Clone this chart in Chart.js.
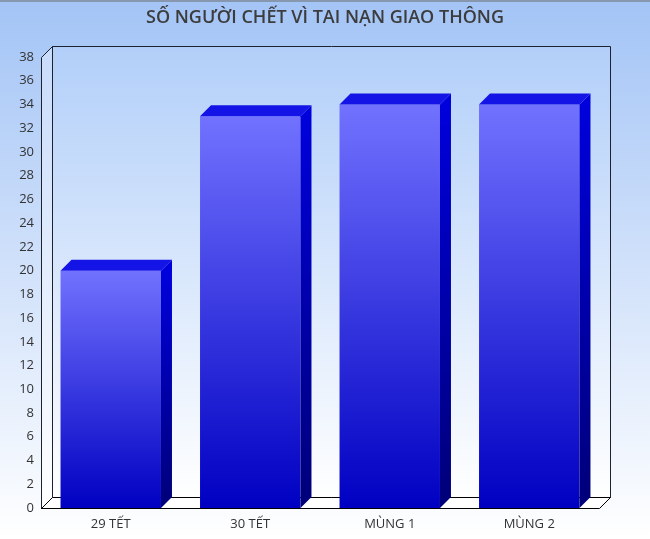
<!DOCTYPE html>
<html lang="vi">
<head>
    <meta charset="UTF-8">
    <title>Số người chết vì tai nạn giao thông</title>
    <script src="https://cdn.jsdelivr.net/npm/chart.js"></script>
    <style>
        html, body { margin: 0; padding: 0; background: #ffffff; }
        #wrap { width: 650px; height: 539px; position: relative; }
    </style>
</head>
<body>
    <div id="wrap"><canvas id="tnChart" width="650" height="539"></canvas></div>

    <script>
        // du lieu
        const ngay = ["29 TẾT", "30 TẾT", "MÙNG 1", "MÙNG 2"];
        const soNguoiChet = [20, 33, 34, 34];
        const yMin = 0;
        const yMax = 38;
        const yStep = 2;
        const tieuDe = "SỐ NGƯỜI CHẾT VÌ TAI NẠN GIAO THÔNG";

        const DEPTH_X = 11, DEPTH_Y = 11;
        const fontChu = "'Open Sans', 'Noto Sans', sans-serif";

        // ve nen, tuong va san kieu 3D
        const khung3D = {
            id: "khung3D",
            beforeDraw(chart) {
                const ctx = chart.ctx;
                const a = chart.chartArea;
                ctx.save();
                let g = ctx.createLinearGradient(0, 0, 0, chart.height);
                g.addColorStop(0, "#a3c4f6");
                g.addColorStop(1, "#ffffff");
                ctx.fillStyle = g;
                ctx.fillRect(0, 0, chart.width, chart.height);
                ctx.fillStyle = "#8797ad";
                ctx.fillRect(0, 0, chart.width, 2);

                const L = a.left, R = a.right, T = a.top, B = a.bottom;
                ctx.lineWidth = 1;
                ctx.strokeStyle = "#1c2230";

                // tuong sau
                g = ctx.createLinearGradient(0, T - DEPTH_Y, 0, B - DEPTH_Y);
                g.addColorStop(0, "#b2cff9");
                g.addColorStop(1, "#ffffff");
                ctx.fillStyle = g;
                ctx.beginPath();
                ctx.rect(L + DEPTH_X + 0.5, T - DEPTH_Y + 0.5, R - L, B - T);
                ctx.fill();
                ctx.stroke();

                // tuong trai
                g = ctx.createLinearGradient(0, T, 0, B);
                g.addColorStop(0, "#c9dcfa");
                g.addColorStop(1, "#ffffff");
                ctx.fillStyle = g;
                ctx.beginPath();
                ctx.moveTo(L + 0.5, T + 0.5);
                ctx.lineTo(L + DEPTH_X + 0.5, T - DEPTH_Y + 0.5);
                ctx.lineTo(L + DEPTH_X + 0.5, B - DEPTH_Y + 0.5);
                ctx.lineTo(L + 0.5, B + 0.5);
                ctx.closePath();
                ctx.fill();
                ctx.stroke();

                // san
                ctx.fillStyle = "#ffffff";
                ctx.beginPath();
                ctx.moveTo(L + 0.5, B + 0.5);
                ctx.lineTo(R + 0.5, B + 0.5);
                ctx.lineTo(R + DEPTH_X + 0.5, B - DEPTH_Y + 0.5);
                ctx.lineTo(L + DEPTH_X + 0.5, B - DEPTH_Y + 0.5);
                ctx.closePath();
                ctx.fill();
                ctx.strokeStyle = "#000000";
                ctx.stroke();
                ctx.restore();
            },
            afterDatasetsDraw(chart) {
                const ctx = chart.ctx;
                const meta = chart.getDatasetMeta(0);
                ctx.save();
                meta.data.forEach(bar => {
                    const x1 = bar.x - bar.width / 2;
                    const x2 = bar.x + bar.width / 2;
                    const top = bar.y, base = bar.base;
                    // mat ben
                    let g = ctx.createLinearGradient(0, top, 0, base);
                    g.addColorStop(0, "#0000dc");
                    g.addColorStop(1, "#000078");
                    ctx.fillStyle = g;
                    ctx.beginPath();
                    ctx.moveTo(x2, top);
                    ctx.lineTo(x2 + DEPTH_X, top - DEPTH_Y);
                    ctx.lineTo(x2 + DEPTH_X, base - DEPTH_Y);
                    ctx.lineTo(x2, base);
                    ctx.closePath();
                    ctx.fill();
                    // mat tren
                    ctx.fillStyle = "#1414e6";
                    ctx.beginPath();
                    ctx.moveTo(x1, top);
                    ctx.lineTo(x1 + DEPTH_X, top - DEPTH_Y);
                    ctx.lineTo(x2 + DEPTH_X, top - DEPTH_Y);
                    ctx.lineTo(x2, top);
                    ctx.closePath();
                    ctx.fill();
                });
                // canh truoc cua san
                const a = chart.chartArea;
                ctx.strokeStyle = "#000000";
                ctx.lineWidth = 1;
                ctx.beginPath();
                ctx.moveTo(a.left, a.bottom + 0.5);
                ctx.lineTo(a.right, a.bottom + 0.5);
                ctx.stroke();
                ctx.restore();
            }
        };

        function mauCot(context) {
            const chart = context.chart;
            const a = chart.chartArea;
            if (!a) return "#3030e0";
            const ys = chart.scales.y;
            const v = context.raw;
            const yTop = ys.getPixelForValue(v);
            const yBot = ys.getPixelForValue(0);
            const g = chart.ctx.createLinearGradient(0, yTop, 0, yBot);
            g.addColorStop(0, "#7272ff");
            g.addColorStop(1, "#0000c2");
            return g;
        }

        const ctx = document.getElementById("tnChart").getContext("2d");
        new Chart(ctx, {
            type: "bar",
            data: {
                labels: ngay,
                datasets: [{
                    label: tieuDe,
                    data: soNguoiChet,
                    backgroundColor: mauCot,
                    borderWidth: 0,
                    barPercentage: 0.72,
                    categoryPercentage: 1.0
                }]
            },
            options: {
                responsive: false,
                animation: false,
                layout: { padding: 0 },
                plugins: {
                    legend: { display: false },
                    tooltip: { enabled: false },
                    title: {
                        display: true,
                        text: tieuDe,
                        color: "#3c3c3c",
                        font: { family: fontChu, size: 18, weight: "600" },
                        padding: { top: 7, bottom: 28.4 }
                    }
                },
                scales: {
                    x: {
                        grid: { display: false, drawTicks: false },
                        border: { display: false },
                        ticks: {
                            color: "#333333",
                            font: { family: fontChu, size: 13 },
                            padding: 8,
                            maxRotation: 0
                        },
                        afterFit: s => { s.height = 31; }
                    },
                    y: {
                        min: yMin,
                        max: yMax,
                        grid: { display: false, drawTicks: false },
                        border: { display: false },
                        ticks: {
                            stepSize: yStep,
                            color: "#333333",
                            font: { family: fontChu, size: 13 },
                            padding: 7
                        },
                        afterFit: s => { s.width = 41; }
                    },
                    // truc trong ben phai, chi de chua khoang cho chieu sau 3D
                    yPhai: {
                        position: "right",
                        grid: { display: false, drawTicks: false },
                        border: { display: false },
                        ticks: { display: false },
                        afterFit: s => { s.width = 51; }
                    }
                }
            },
            plugins: [khung3D]
        });
    </script>
</body>
</html>
